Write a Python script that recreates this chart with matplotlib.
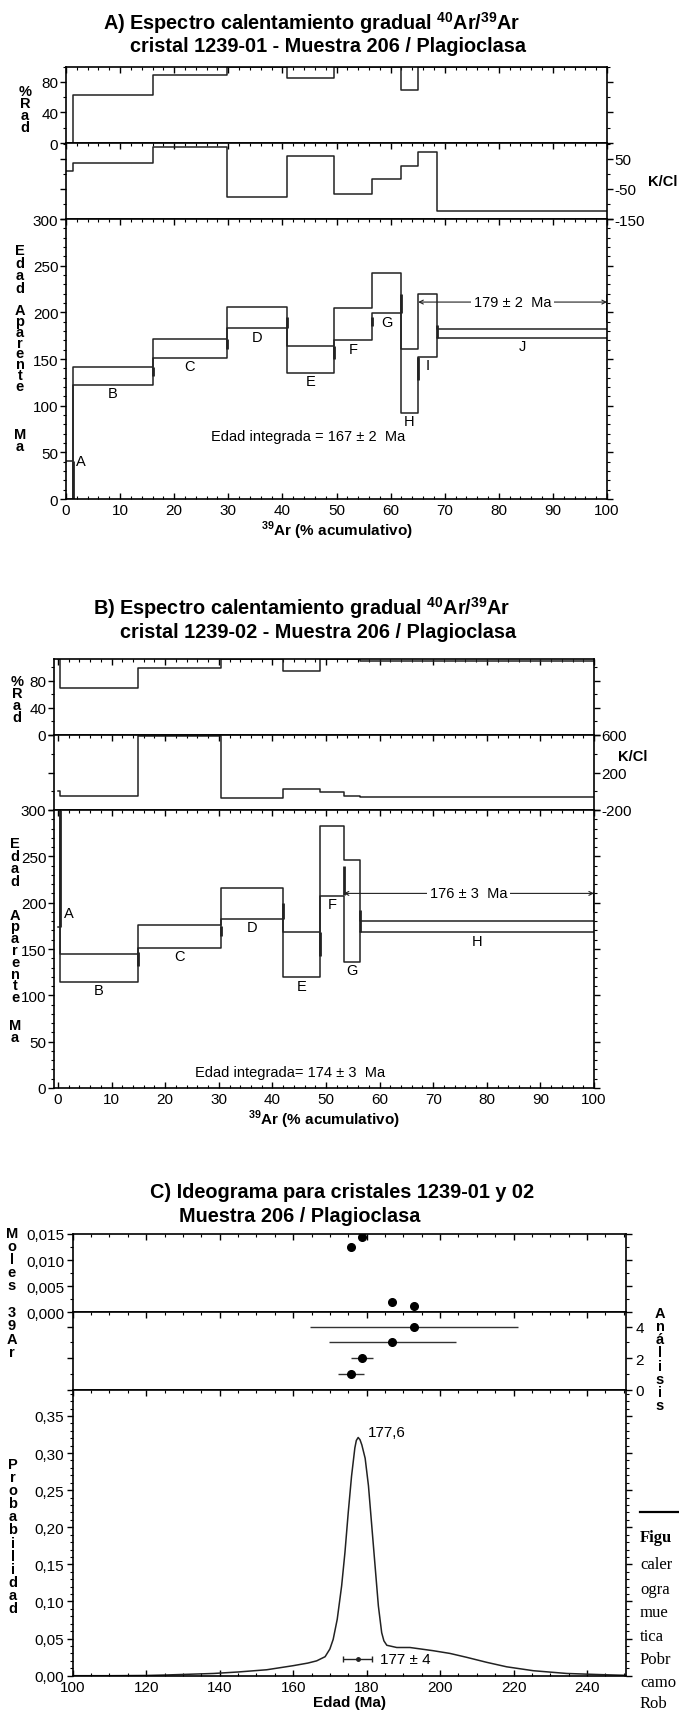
import matplotlib
matplotlib.use('Agg')
import matplotlib.pyplot as plt
from matplotlib.ticker import MultipleLocator, FixedLocator, FuncFormatter
from matplotlib.lines import Line2D

plt.rcParams['font.family'] = ['Liberation Sans', 'DejaVu Sans']
plt.rcParams['mathtext.fontset'] = 'custom'
plt.rcParams['mathtext.rm'] = 'Liberation Sans'
plt.rcParams['mathtext.bf'] = 'Liberation Sans:bold'
plt.rcParams['axes.linewidth'] = 1.2
plt.rcParams['axes.unicode_minus'] = False

# ---------------- data: panel A ----------------
A_edges = [0, 1.3, 16.1, 29.7, 40.8, 49.6, 56.6, 61.9, 65.1, 68.6, 100]
A_steps = ['A', 'B', 'C', 'D', 'E', 'F', 'G', 'H', 'I', 'J']
A_rad = [0, 62.5, 89, 100, 85, 100, 100, 69.5, 100, 100]
A_kcl = [9, 36, 91, -78, 59, -68, -17, 26, 74, -124]
A_age_lo = [0, 122, 151, 183, 135, 170, 199, 92, 152, 173]
A_age_hi = [41, 141, 171, 206, 164, 205, 242, 161, 220, 182]
A_mark_lo = [0, 132, 161, 183, 150, 185, 199, 128, 173, 190]
A_mark_hi = [41, 141, 171, 195, 164, 195, 220, 152, 186, 220]
A_plateau = [65.1, 100]
A_plateau_age = 211
A_plateau_txt = '179 ± 2  Ma'
A_integrated = 'Edad integrada = 167 ± 2  Ma'

# ---------------- data: panel B ----------------
B_edges = [0, 0.3, 14.9, 30.5, 42.0, 48.9, 53.3, 56.3, 100]
B_steps = ['A', 'B', 'C', 'D', 'E', 'F', 'G', 'H']
B_rad = [112, 70, 98.5, 112, 94, 112, 112, 109]
B_kcl = [0, -47, 592, -72, 24, -11, -51, -61]
B_age_lo = [174, 114.6, 151.3, 182.3, 119.3, 207.5, 136.2, 168]
B_age_hi = [320, 145, 176, 215.4, 168, 283, 246.4, 180.5]
B_mark_lo = [174, 132, 164, 182, 142, 208, 168, 189.5]
B_mark_hi = [300, 146.6, 175, 200, 168, 240, 192, 213]
B_plateau = [53.3, 100]
B_plateau_age = 210
B_plateau_txt = '176 ± 3  Ma'
B_integrated = 'Edad integrada= 174 ± 3  Ma'

# ---------------- data: panel C ----------------
C_age = [175.7, 178.7, 187.0, 193.0]
C_err = [3.5, 3.0, 17.2, 28.3]
C_moles = [0.0126, 0.0144, 0.0019, 0.0012]
C_rank = [1, 2, 3, 4]
C_curve_age = [100, 110, 120, 125.6, 132, 138.3, 145, 152.8, 160, 164, 166.4, 168.7,
               170, 170.9, 172, 173.2, 174.1, 175, 175.9, 176.8, 177.2, 177.7, 178.2,
               178.7, 179.6, 180.5, 181.4, 182.3, 183.2, 184.1, 184.7, 185.5, 188.2,
               191.8, 198.1, 202.7, 207.2, 212.7, 218.1, 225.4, 234.5, 243.5, 250.5]
C_curve_prob = [0, 0, 0.0003, 0.001, 0.002, 0.003, 0.005, 0.008, 0.0135, 0.017, 0.020, 0.0256,
                0.036, 0.049, 0.076, 0.121, 0.166, 0.220, 0.269, 0.307, 0.317, 0.321, 0.318,
                0.311, 0.293, 0.256, 0.202, 0.148, 0.094, 0.058, 0.047, 0.041, 0.038,
                0.038, 0.0337, 0.030, 0.0248, 0.018, 0.012, 0.0067, 0.003, 0.0015, 0.0005]
C_peak = 177.6
C_peak_txt = '177,6'
C_mean = 177.6
C_mean_err = 4
C_mean_txt = '177 ± 4'

W, H = 679, 1715
fig = plt.figure(figsize=(W / 100, H / 100), dpi=100)

def add_ax(l, t, r, b):
    return fig.add_axes([l / W, 1 - b / H, (r - l) / W, (b - t) / H])

LC = '#222222'
TICK_FS = 11

def xstyle(ax, major, minor, bottom):
    ax.xaxis.set_major_locator(MultipleLocator(major))
    ax.xaxis.set_minor_locator(MultipleLocator(minor))
    ax.tick_params(axis='x', which='both', direction='in', top=True, bottom=bottom,
                   labelbottom=bottom, labelsize=TICK_FS, pad=3)
    ax.tick_params(axis='x', which='major', length=4, width=1)
    ax.tick_params(axis='x', which='minor', length=2.5, width=0.8)

def ystyle(ax, majors, minors, left_lab, right_lab, fmt=None, pad=2):
    ax.yaxis.set_major_locator(FixedLocator(majors))
    ax.yaxis.set_minor_locator(FixedLocator(minors))
    ax.tick_params(axis='y', which='both', direction='out', left=True, right=True,
                   labelleft=left_lab, labelright=right_lab, labelsize=TICK_FS, pad=pad)
    ax.tick_params(axis='y', which='major', length=4, width=1)
    ax.tick_params(axis='y', which='minor', length=2.5, width=0.8)
    if fmt is not None:
        ax.yaxis.set_major_formatter(FuncFormatter(fmt))

def steps(ax, edges, vals, **kw):
    ax.plot(edges, list(vals) + [vals[-1]], drawstyle='steps-post', color=LC, lw=1.1, **kw)

def vtext(x, y, s, size=10.5, ls=0.9):
    fig.text(x / W, 1 - y / H, '\n'.join(s), ha='center', va='center', fontsize=size,
             fontweight='bold', linespacing=ls)

TITLE_KW = dict(fontsize=14.3, fontweight='bold', ha='left', va='center',
                family=['Liberation Sans Narrow', 'Liberation Sans', 'DejaVu Sans'])

def spectrum(left, right, rowpx, xlim, edges, rad, radlim, kcl, kcllim, kclmaj, kclmin,
             lo, hi, mlo, mhi, names, plateau, plat_age, plat_txt, integ, integ_pos, a_off,
             radmaj, radmin):
    axR = add_ax(left, rowpx[0], right, rowpx[1])
    axK = add_ax(left, rowpx[1], right, rowpx[2])
    axG = add_ax(left, rowpx[2], right, rowpx[3])
    for ax in (axR, axK, axG):
        ax.set_xlim(*xlim)
    # %Rad
    steps(axR, edges, rad)
    axR.set_ylim(*radlim)
    xstyle(axR, 10, 2, False)
    ystyle(axR, radmaj, radmin, True, False, pad=1.5)
    # K/Cl
    steps(axK, edges, kcl)
    axK.set_ylim(*kcllim)
    xstyle(axK, 10, 2, False)
    ystyle(axK, kclmaj, kclmin, False, True, pad=1.5)
    # age
    steps(axG, edges, lo)
    steps(axG, edges, hi)
    axG.set_ylim(0, 300)
    xstyle(axG, 10, 2, True)
    ystyle(axG, list(range(0, 301, 50)), list(range(0, 301, 10)), True, False, pad=1.5)
    for i in range(len(names)):
        axG.plot([edges[i + 1], edges[i + 1]], [mlo[i], mhi[i]], color=LC, lw=2.0,
                 solid_capstyle='butt')
        if i == 0:
            axG.annotate(names[i], (edges[1], lo[0] if a_off[2] == 'lo' else hi[0]),
                         xytext=(a_off[0], a_off[1]), textcoords='offset points',
                         ha='left', va='center', fontsize=10.5)
        else:
            axG.annotate(names[i], ((edges[i] + edges[i + 1]) / 2, lo[i]),
                         xytext=(0, -6), textcoords='offset points',
                         ha='center', va='center', fontsize=10.5)
    axG.annotate('', xy=(plateau[0], plat_age), xytext=(plateau[1], plat_age),
                 arrowprops=dict(arrowstyle='<->', lw=0.8, color=LC, shrinkA=0, shrinkB=0,
                                 mutation_scale=7))
    axG.text((plateau[0] + plateau[1]) / 2, plat_age, plat_txt, ha='center', va='center',
             fontsize=10.5, bbox=dict(facecolor='white', edgecolor='none', pad=2))
    axG.text(integ_pos[0], integ_pos[1], integ, transform=axG.transAxes, ha='center',
             va='center', fontsize=10.5)
    axG.set_xlabel(r'$^{\mathbf{39}}$Ar (% acumulativo)', fontsize=11, fontweight='bold',
                   labelpad=1)
    return axR, axK, axG

# ---------------- panel A ----------------
fig.text(103 / W, 1 - 23 / H, r'A) Espectro calentamiento gradual $^{\mathbf{40}}$Ar/$^{\mathbf{39}}$Ar', **TITLE_KW)
fig.text(130 / W, 1 - 46 / H, 'cristal 1239-01 - Muestra 206 / Plagioclasa', **TITLE_KW)
spectrum(66, 607, [67.5, 144, 220, 500], (0, 100), A_edges, A_rad, (0, 100),
         A_kcl, (-150, 103), [50, -50, -150], [100, 0, -100],
         A_age_lo, A_age_hi, A_mark_lo, A_mark_hi, A_steps, A_plateau, A_plateau_age,
         A_plateau_txt, A_integrated, (0.447, 0.225), (2, 0, 'hi'),
         [0, 40, 80], [20, 60, 100])
vtext(25, 110, '%Rad', ls=0.8)
vtext(20, 270, 'Edad', ls=0.88)
vtext(20, 349, 'Aparente', ls=0.72)
vtext(20, 441, 'Ma', ls=0.85)
fig.text(663 / W, 1 - 182 / H, 'K/Cl', fontsize=10.5, fontweight='bold', ha='center', va='center')

# ---------------- panel B ----------------
fig.text(93 / W, 1 - 608 / H, r'B) Espectro calentamiento gradual $^{\mathbf{40}}$Ar/$^{\mathbf{39}}$Ar', **TITLE_KW)
fig.text(120 / W, 1 - 632 / H, 'cristal 1239-02 - Muestra 206 / Plagioclasa', **TITLE_KW)
spectrum(54, 594, [660, 736, 811, 1089], (-0.75, 100), B_edges, B_rad, (0, 112),
         B_kcl, (-200, 600), [600, 200, -200], [400, 0],
         B_age_lo, B_age_hi, B_mark_lo, B_mark_hi, B_steps, B_plateau, B_plateau_age,
         B_plateau_txt, B_integrated, (0.437, 0.059), (3, 10, 'lo'),
         [0, 40, 80], [20, 60, 100])
vtext(17, 700, '%Rad', ls=0.8)
vtext(15, 863, 'Edad', ls=0.88)
vtext(15, 957, 'Aparente', ls=0.8)
vtext(15, 1032, 'Ma', ls=0.85)
fig.text(633 / W, 1 - 757 / H, 'K/Cl', fontsize=10.5, fontweight='bold', ha='center', va='center')

# ---------------- panel C ----------------
fig.text(150 / W, 1 - 1193 / H, 'C) Ideograma para cristales 1239-01 y 02', **TITLE_KW)
fig.text(179 / W, 1 - 1216 / H, 'Muestra 206 / Plagioclasa', **TITLE_KW)
axM = add_ax(72.7, 1235, 626, 1313.3)
axN = add_ax(72.7, 1313.3, 626, 1391)
axP = add_ax(72.7, 1391, 626, 1676.7)
for ax in (axM, axN, axP):
    ax.set_xlim(100, 250.6)
comma3 = lambda v, p: f'{v:.3f}'.replace('.', ',')
comma2 = lambda v, p: f'{v:.2f}'.replace('.', ',')

axM.plot(C_age, C_moles, 'o', color='black', ms=5.5)
axM.set_ylim(0, 0.015)
xstyle(axM, 20, 5, False)
ystyle(axM, [0, 0.005, 0.010, 0.015], [0.0025, 0.0075, 0.0125], True, False, fmt=comma3)

axN.errorbar(C_age, C_rank, xerr=C_err, fmt='o', color='black', ms=5.5, elinewidth=1.0,
             ecolor='#333333', capsize=0)
axN.set_ylim(0, 4.9)
xstyle(axN, 20, 5, False)
ystyle(axN, [0, 2, 4], [1, 3], False, True, pad=3)

axP.plot(C_curve_age, C_curve_prob, color=LC, lw=1.1)
axP.set_ylim(0, 0.385)
xstyle(axP, 20, 5, True)
ystyle(axP, [0, 0.05, 0.10, 0.15, 0.20, 0.25, 0.30, 0.35],
       [i / 100 for i in range(0, 39)], True, False, fmt=comma2)
axP.text(C_peak + 2.8, 0.329, C_peak_txt, ha='left', va='center', fontsize=11)
axP.errorbar([C_mean], [0.0225], xerr=[C_mean_err], fmt='o', color=LC, ms=2.5,
             elinewidth=1.0, capsize=2.5, capthick=1.0)
axP.text(C_mean + C_mean_err + 2, 0.0225, C_mean_txt, ha='left', va='center', fontsize=11)
axP.set_xlabel('Edad (Ma)', fontsize=11, fontweight='bold', labelpad=1)

vtext(12, 1260, 'Moles', ls=0.92)
vtext(12, 1333, '39Ar', ls=0.92)
vtext(13, 1537, 'Probabilidad', ls=0.92)
vtext(660, 1360, 'Análisis', ls=0.92)

# ---------------- cut caption fragment ----------------
fig.add_artist(Line2D([640 / W, 1.0], [1 - 1512.7 / H] * 2, lw=1.6, color='black'))
cap_lines = ['Figu', 'caler', 'ogra', 'mue', 'tica', 'Pobr', 'camo', 'Rob']
cap_y = [1538, 1565, 1590, 1613, 1637, 1660, 1683, 1704]
for i, (s, y) in enumerate(zip(cap_lines, cap_y)):
    fig.text(640 / W, 1 - y / H, s, ha='left', va='center', fontsize=12,
             family=['Liberation Serif', 'DejaVu Serif'],
             fontweight='bold' if i == 0 else 'normal')

fig.savefig('out.png', dpi=100)
